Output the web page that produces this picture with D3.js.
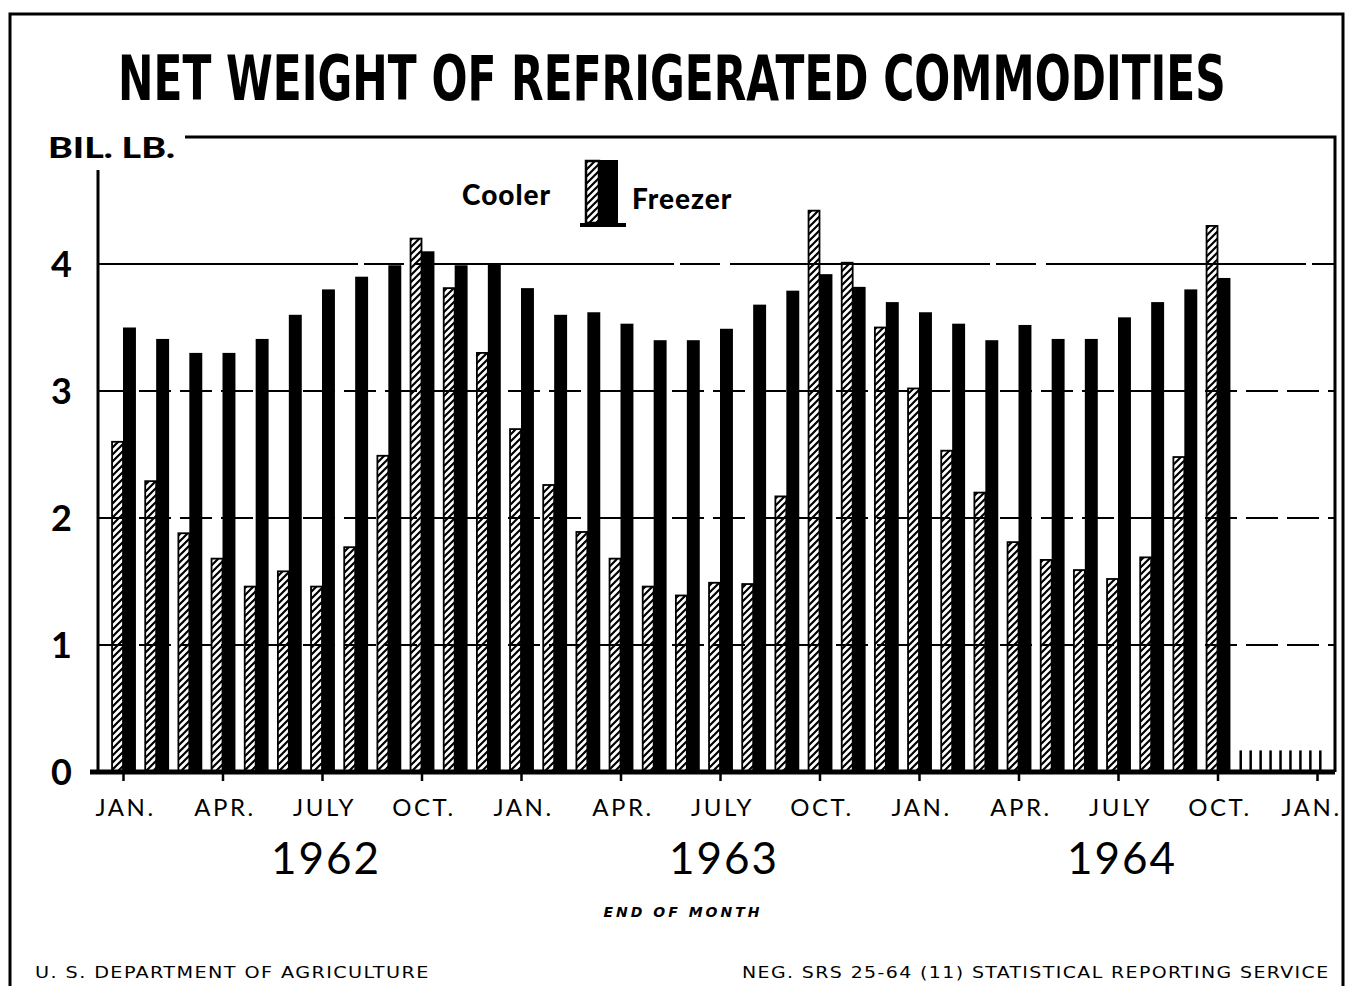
<!DOCTYPE html>
<html>
<head>
<meta charset="utf-8">
<script src="https://cdn.jsdelivr.net/npm/d3@7"></script>
<style>
  body { margin: 0; background: #fff; }
  svg { display: block; }
</style>
</head>
<body>
<div id="chart-area"></div>
<script>
// end of month values, Jan 1962 - Oct 1964 (billion lb.)
var cooler = [2.60, 2.29, 1.88, 1.68, 1.46, 1.58, 1.46, 1.77, 2.49, 4.20, 3.81, 3.30,
              2.70, 2.26, 1.89, 1.68, 1.46, 1.39, 1.49, 1.48, 2.17, 4.42, 4.01, 3.50,
              3.02, 2.53, 2.20, 1.81, 1.67, 1.59, 1.52, 1.69, 2.48, 4.30];
var freezer = [3.50, 3.41, 3.30, 3.30, 3.41, 3.60, 3.80, 3.90, 3.99, 4.10, 3.99, 4.00,
               3.81, 3.60, 3.62, 3.53, 3.40, 3.40, 3.49, 3.68, 3.79, 3.92, 3.82, 3.70,
               3.62, 3.53, 3.40, 3.52, 3.41, 3.41, 3.58, 3.70, 3.80, 3.89];
var monthLabels = ["JAN.", "APR.", "JULY", "OCT."];
var years = ["1962", "1963", "1964"];
var yTicks = [0, 1, 2, 3, 4];

var W = 1348, H = 986;
var svg = d3.select("#chart-area")
    .append("svg")
        .attr("width", W)
        .attr("height", H);

svg.append("rect").attr("width", W).attr("height", H).attr("fill", "#fff");

// hatch pattern for cooler bars
var defs = svg.append("defs");
defs.append("pattern")
    .attr("id", "hatch")
    .attr("patternUnits", "userSpaceOnUse")
    .attr("width", 7)
    .attr("height", 7)
  .append("path")
    .attr("d", "M-1,1 l2,-2 M0,7 l7,-7 M6,8 l2,-2")
    .attr("stroke", "#000")
    .attr("stroke-width", 2.2);

// scales: month index 0 = Jan 1962
var x = d3.scaleLinear().domain([0, 36]).range([123, 1317]);
var y = d3.scaleLinear().domain([0, 5]).range([772, 137]);
var step = x(1) - x(0);

// squeeze a text horizontally to a given width (keeps glyph height)
function fitWidth(sel, x0, width) {
    var len = sel.node().getComputedTextLength();
    sel.attr("x", 0)
       .attr("transform", "translate(" + x0 + ",0) scale(" + (width / len) + ",1)");
}

// outer frame
svg.append("path")
    .attr("d", "M10," + H + " V14 H1343 V" + H)
    .attr("fill", "none")
    .attr("stroke", "#000")
    .attr("stroke-width", 3);

// title
var title = svg.append("text")
    .attr("y", 100)
    .attr("font-family", "DejaVu Sans Condensed, DejaVu Sans")
    .attr("font-weight", "bold")
    .attr("font-size", "62px")
    .text("NET WEIGHT OF REFRIGERATED COMMODITIES");
fitWidth(title, 118, 1108);

// unit label
var unit = svg.append("text")
    .attr("y", 158)
    .attr("font-family", "Lato, DejaVu Sans")
    .attr("font-weight", "900")
    .attr("font-size", "28px")
    .text("BIL. LB.");
fitWidth(unit, 48, 127);

// gridlines
svg.append("g")
    .selectAll("line")
    .data(yTicks.slice(1))
    .enter()
    .append("line")
        .attr("x1", x.range()[0] - 25)
        .attr("x2", 1335)
        .attr("y1", function(d){ return y(d); })
        .attr("y2", function(d){ return y(d); })
        .attr("stroke", "#000")
        .attr("stroke-width", 2)
        .attr("stroke-dasharray", function(d){ return d == 4 ? "260,6,40,10" : "32,9"; });

// plot frame (top + right)
svg.append("path")
    .attr("d", "M185," + y(5) + " H1335 V" + y(0))
    .attr("fill", "none")
    .attr("stroke", "#000")
    .attr("stroke-width", 3);

// cooler bars
svg.append("g")
    .selectAll("rect")
    .data(cooler)
    .enter()
    .append("rect")
        .attr("x", function(d, i){ return x(i) - step * 0.33; })
        .attr("y", function(d){ return y(d); })
        .attr("width", step * 0.33)
        .attr("height", function(d){ return y(0) - y(d); })
        .attr("fill", "url(#hatch)")
        .attr("stroke", "#000")
        .attr("stroke-width", 1.8);

// freezer bars
svg.append("g")
    .selectAll("rect")
    .data(freezer)
    .enter()
    .append("rect")
        .attr("x", function(d, i){ return x(i); })
        .attr("y", function(d){ return y(d); })
        .attr("width", step * 0.39)
        .attr("height", function(d){ return y(0) - y(d); })
        .attr("fill", "#000");

// short stubs after the last month
svg.append("g")
    .selectAll("line")
    .data(d3.range(33.7, 36.4, 0.3))
    .enter()
    .append("line")
        .attr("x1", function(d){ return x(d); })
        .attr("x2", function(d){ return x(d); })
        .attr("y1", y(0))
        .attr("y2", y(0.17))
        .attr("stroke", "#000")
        .attr("stroke-width", 2.5);

// y axis
var yAxisCall = d3.axisLeft(y)
    .tickValues(yTicks)
    .tickSize(0)
    .tickPadding(26)
    .tickFormat(d3.format("d"));
var yAxis = svg.append("g")
    .attr("class", "y-axis")
    .attr("transform", "translate(98, 0)")
    .call(yAxisCall);
yAxis.select(".domain").remove();
yAxis.selectAll("text")
    .attr("font-family", "Lato, DejaVu Sans")
    .attr("font-weight", "bold")
    .attr("font-size", "36px")
    .attr("dy", "0.35em")
    .attr("fill", "#000");
svg.append("line")
    .attr("x1", 98).attr("x2", 98)
    .attr("y1", 170).attr("y2", y(0))
    .attr("stroke", "#000")
    .attr("stroke-width", 3);

// x axis
var xAxisCall = d3.axisBottom(x)
    .tickValues(d3.range(0, 37, 3))
    .tickSize(9)
    .tickPadding(18)
    .tickFormat(function(d){ return monthLabels[(d / 3) % 4]; });
var xAxis = svg.append("g")
    .attr("class", "x-axis")
    .attr("transform", "translate(0, " + y(0) + ")")
    .call(xAxisCall);
xAxis.select(".domain").remove();
xAxis.selectAll(".tick line").attr("stroke", "#000").attr("stroke-width", 2.5);
xAxis.selectAll("text")
    .attr("font-family", "Lato, DejaVu Sans")
    .attr("font-size", "24px")
    .attr("letter-spacing", "2.5px")
    .attr("dx", function(d){ return d == 36 ? "-6px" : "2px"; })
    .attr("fill", "#000");
svg.append("line")
    .attr("x1", 90).attr("x2", 1335)
    .attr("y1", y(0)).attr("y2", y(0))
    .attr("stroke", "#000")
    .attr("stroke-width", 5);

// years
svg.append("g")
    .selectAll("text")
    .data(years)
    .enter()
    .append("text")
        .attr("x", function(d, i){ return x(6 + 12 * i) + 4; })
        .attr("y", 874)
        .attr("text-anchor", "middle")
        .attr("font-family", "Lato, DejaVu Sans")
        .attr("font-size", "44px")
        .attr("letter-spacing", "2px")
        .text(function(d){ return d; });

svg.append("text")
    .attr("x", 683)
    .attr("y", 917)
    .attr("text-anchor", "middle")
    .attr("font-family", "DejaVu Sans")
    .attr("font-weight", "bold")
    .attr("font-style", "italic")
    .attr("font-size", "14px")
    .attr("letter-spacing", "3px")
    .text("END OF MONTH");

// legend
svg.append("text")
    .attr("x", 462).attr("y", 205)
    .attr("font-family", "Lato, DejaVu Sans")
    .attr("font-weight", "900")
    .attr("font-size", "28px")
    .attr("letter-spacing", "1px")
    .text("Cooler");
svg.append("text")
    .attr("x", 632).attr("y", 209)
    .attr("font-family", "Lato, DejaVu Sans")
    .attr("font-weight", "900")
    .attr("font-size", "28px")
    .attr("letter-spacing", "1px")
    .text("Freezer");
svg.append("rect")
    .attr("x", 586).attr("y", 161)
    .attr("width", 13).attr("height", 62)
    .attr("fill", "url(#hatch)")
    .attr("stroke", "#000")
    .attr("stroke-width", 2.5);
svg.append("rect")
    .attr("x", 599).attr("y", 160)
    .attr("width", 19).attr("height", 64)
    .attr("fill", "#000");
svg.append("line")
    .attr("x1", 580).attr("x2", 626)
    .attr("y1", 225).attr("y2", 225)
    .attr("stroke", "#000")
    .attr("stroke-width", 4);

// footer
var foot1 = svg.append("text")
    .attr("y", 978)
    .attr("font-family", "DejaVu Sans Condensed, DejaVu Sans")
    .attr("font-size", "15px")
    .attr("letter-spacing", "1px")
    .text("U. S. DEPARTMENT OF AGRICULTURE");
fitWidth(foot1, 35, 395);
var foot2 = svg.append("text")
    .attr("y", 978)
    .attr("font-family", "DejaVu Sans Condensed, DejaVu Sans")
    .attr("font-size", "15px")
    .attr("letter-spacing", "1px")
    .text("NEG. SRS 25-64 (11) STATISTICAL REPORTING SERVICE");
fitWidth(foot2, 742, 588);
</script>
</body>
</html>
